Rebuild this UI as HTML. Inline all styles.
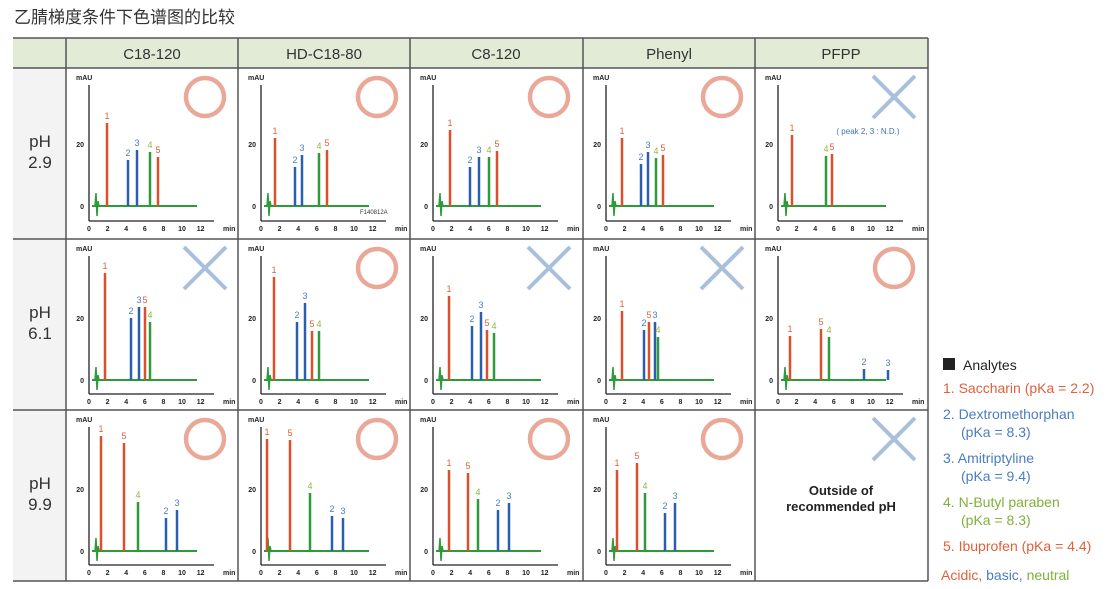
<!DOCTYPE html>
<html><head><meta charset="utf-8"><style>
body{margin:0;background:#fff;width:1119px;height:589px;overflow:hidden;font-family:"Liberation Sans","Noto Sans CJK SC",sans-serif}
svg{display:block}
</style></head><body>
<svg id="s" width="1119" height="589" xmlns="http://www.w3.org/2000/svg" font-family="Liberation Sans, Noto Sans CJK SC, sans-serif">
<text x="14" y="23" font-size="17" fill="#333">乙腈梯度条件下色谱图的比较</text>
<rect x="13" y="38" width="915" height="30" fill="#e2ebd6"/>
<rect x="13" y="68" width="53" height="513" fill="#f3f3f3"/>
<g font-size="15" fill="#333" text-anchor="middle">
<text x="152" y="59">C18-120</text><text x="324" y="59">HD-C18-80</text><text x="496" y="59">C8-120</text><text x="669" y="59">Phenyl</text><text x="841" y="59">PFPP</text>
<text x="40" y="147" font-size="17">pH</text><text x="40" y="168" font-size="17">2.9</text>
<text x="40" y="318" font-size="17">pH</text><text x="40" y="339" font-size="17">6.1</text>
<text x="40" y="489" font-size="17">pH</text><text x="40" y="510" font-size="17">9.9</text>
</g>
<g id="p"></g>
<g stroke="#555" stroke-width="1.5" fill="none">
<line x1="13" y1="38" x2="928" y2="38"/><line x1="13" y1="68" x2="928" y2="68"/>
<line x1="13" y1="239" x2="928" y2="239"/><line x1="13" y1="410" x2="928" y2="410"/><line x1="13" y1="581" x2="928" y2="581"/>
<line x1="66" y1="38" x2="66" y2="581"/><line x1="238" y1="38" x2="238" y2="581"/><line x1="410" y1="38" x2="410" y2="581"/>
<line x1="583" y1="38" x2="583" y2="581"/><line x1="755" y1="38" x2="755" y2="581"/><line x1="928" y1="38" x2="928" y2="581"/>
</g>
<text x="841" y="495" font-size="13" font-weight="bold" text-anchor="middle" fill="#222">Outside of</text>
<text x="841" y="511" font-size="13" font-weight="bold" text-anchor="middle" fill="#222">recommended pH</text>
<text x="360" y="214" font-size="6" fill="#333">F140812A</text>
<text x="868" y="134" font-size="8" fill="#3a72c0" text-anchor="middle">( peak 2, 3 : N.D.)</text>
<g font-size="14">
<rect x="943" y="358" width="12" height="12" fill="#222"/>
<text x="963" y="370" fill="#222">Analytes</text>
<text x="943" y="393" fill="#e0603a">1. Saccharin (pKa = 2.2)</text>
<text x="943" y="419" fill="#4a7dc2">2. Dextromethorphan</text>
<text x="961" y="437" fill="#4a7dc2">(pKa = 8.3)</text>
<text x="943" y="463" fill="#4a7dc2">3. Amitriptyline</text>
<text x="961" y="481" fill="#4a7dc2">(pKa = 9.4)</text>
<text x="943" y="507" fill="#7fb03a">4. N-Butyl paraben</text>
<text x="961" y="525" fill="#7fb03a">(pKa = 8.3)</text>
<text x="943" y="551" fill="#e0603a">5. Ibuprofen (pKa = 4.4)</text>
<text x="941" y="580" fill="#e0603a">Acidic, <tspan fill="#4a7dc2">basic, </tspan><tspan fill="#7fb03a">neutral</tspan></text>
</g>
</svg>
<script>
var NS="http://www.w3.org/2000/svg",g=document.getElementById("p");
function el(t,a,txt){var e=document.createElementNS(NS,t);for(var k in a)e.setAttribute(k,a[k]);if(txt!=null)e.textContent=txt;g.appendChild(e);return e;}
var cols=[66,238,410,583,755],rows=[68,239,410];
var PC={1:"#d9502a",5:"#d9502a",2:"#2a5fb0",3:"#2a5fb0",4:"#2f9a3a"};
var LC={1:"#e0603a",5:"#e0603a",2:"#4a7dc2",3:"#4a7dc2",4:"#8db83a"};
var data=[
[[[1,107,123],[2,128,160],[3,137,150],[4,150,152],[5,158,157]],'o'],
[[[1,275,138],[2,295,167],[3,302,155],[4,319,153],[5,327,150]],'o'],
[[[1,450,130],[2,470,167],[3,479,157],[4,489,157],[5,497,151]],'o'],
[[[1,622,138],[2,641,164],[3,648,152],[4,656,158],[5,663,155]],'o'],
[[[1,792,135],[4,826,156],[5,832,154]],'x'],
[[[1,105,273],[2,131,318],[3,139,307],[5,145,307],[4,150,322]],'x'],
[[[1,274,277],[2,297,322],[3,305,303],[5,312,331],[4,319,331]],'o'],
[[[1,449,296],[2,472,326],[3,481,312],[5,487,330],[4,494,333]],'x'],
[[[1,622,311],[2,644,330],[5,649,322],[3,655,322],[4,658,337]],'x'],
[[[1,790,336],[5,821,329],[4,829,337],[2,864,369],[3,888,370]],'o'],
[[[1,101,436],[5,124,443],[4,138,502],[2,166,518],[3,177,510]],'o'],
[[[1,267,439],[5,290,440],[4,310,493],[2,332,516],[3,343,518]],'o'],
[[[1,449,470],[5,468,473],[4,478,499],[2,498,510],[3,509,503]],'o'],
[[[1,617,470],[5,637,463],[4,645,493],[2,665,513],[3,675,503]],'o'],
[null,'x']];
for(var r=0;r<3;r++)for(var c=0;c<5;c++){
 var d=data[r*5+c],x0=cols[c],y0=rows[r],cx=x0+139,cy=y0+29;
 if(d[1]=='o')el("circle",{cx:cx,cy:cy,r:19,fill:"none",stroke:"#e9a898","stroke-width":4.5});
 else{el("line",{x1:cx-21,y1:cy-21,x2:cx+21,y2:cy+21,stroke:"#a9c0dc","stroke-width":4});el("line",{x1:cx+21,y1:cy-21,x2:cx-21,y2:cy+21,stroke:"#a9c0dc","stroke-width":4});}
 if(!d[0])continue;
 var ax=x0+23,base=y0+(r==0?138:141),xb=y0+(r==0?153:155);
 el("text",{x:x0+10,y:y0+12,"font-size":7,"font-weight":"bold",fill:"#222"},"mAU");
 el("line",{x1:ax,y1:y0+17,x2:ax,y2:xb,stroke:"#222","stroke-width":1.3});
 el("line",{x1:ax,y1:xb,x2:ax+125,y2:xb,stroke:"#222","stroke-width":1.3});
 el("text",{x:ax-5,y:base+3,"font-size":7,"font-weight":"bold","text-anchor":"end",fill:"#222"},"0");
 el("text",{x:ax-5,y:base-59,"font-size":7,"font-weight":"bold","text-anchor":"end",fill:"#222"},"20");
 for(var t=0;t<=12;t+=2)el("text",{x:ax+t*9.3,y:xb+10,"font-size":7,"font-weight":"bold","text-anchor":"middle",fill:"#222"},""+t);
 el("text",{x:ax+134,y:xb+10,"font-size":7,"font-weight":"bold",fill:"#222"},"min");
 el("line",{x1:ax+3,y1:base,x2:ax+108,y2:base,stroke:"#2f9a3a","stroke-width":2});
 el("polyline",{points:(ax+6)+","+base+" "+(ax+7)+","+(base-13)+" "+(ax+8)+","+(base+10)+" "+(ax+9)+","+(base-5)+" "+(ax+10)+","+base,fill:"none",stroke:"#2f9a3a","stroke-width":1.5});
 d[0].forEach(function(p){
  var y=p[2];
  el("line",{x1:p[1],y1:base,x2:p[1],y2:y,stroke:PC[p[0]],"stroke-width":2.5});
  el("text",{x:p[1],y:y-4,"font-size":9,"text-anchor":"middle",fill:LC[p[0]]},""+p[0]);
 });
}
</script>
</body></html>
